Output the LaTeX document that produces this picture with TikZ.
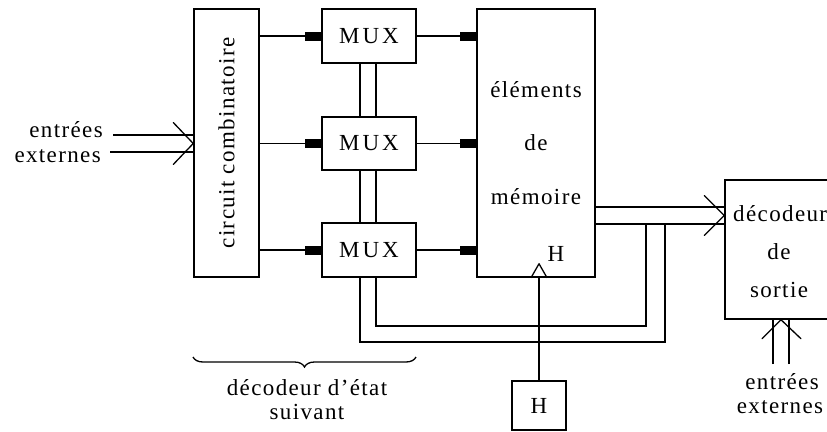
\documentclass[tikz,border=0pt]{standalone}
\usepackage{fontspec}
\setmainfont[LetterSpace=6]{Liberation Serif}
\usetikzlibrary{arrows.meta,decorations.pathreplacing}
\begin{document}
\begin{tikzpicture}[x=1pt,y=-1pt,
  lw/.style={line width=1.5pt},
  box/.style={draw,lw,rectangle,inner sep=0pt},
  lbl/.style={font=\fontsize{23}{25}\selectfont,inner sep=0pt},
  farrow/.style={lw,-{Rectangle[length=16pt,width=9pt]}},
  chev/.style={line width=1.3pt,line cap=round},
  wire/.style={lw}
]
\useasboundingbox[fill=white] (0,0) rectangle (827,431);
% boxes
\node[box,minimum width=65pt,minimum height=268pt] (comb) at (226.5,143) {};
\node[lbl,rotate=90] (combtxt) at (comb.center) {circuit combinatoire};
\node[box,lbl,minimum width=94pt,minimum height=54pt] (mux1) at (369,36) {M\kern3pt U\kern3pt X};
\node[box,lbl,minimum width=94pt,minimum height=53pt] (mux2) at (369,143.5) {M\kern3pt U\kern3pt X};
\node[box,lbl,minimum width=94pt,minimum height=54pt] (mux3) at (369,250) {M\kern3pt U\kern3pt X};
\node[box,minimum width=118pt,minimum height=268pt] (mem) at (536,143) {};
\node[lbl] (m1) at (536,90) {éléments};
\node[lbl] (m2) at (536,143) {de};
\node[lbl] (m3) at (536,197) {mémoire};
\node[box,minimum width=108pt,minimum height=139pt] (dec) at (779,249.5) {};
\node[lbl,anchor=west] (d1) at (733,214) {décodeur};
\node[lbl] (d2) at (779,252) {de};
\node[lbl] (d3) at (779,290) {sortie};
\node[box,lbl,minimum width=54pt,minimum height=49pt] (clk) at (539,405.5) {H};
\node[lbl] (hlab) at (556,254) {H};
% input labels
\node[lbl,anchor=east] (inL1) at (103,130) {entrées};
\node[lbl,anchor=east] (inL2) at (101,156) {externes};
\node[lbl] (inR1) at (782,382) {entrées};
\node[lbl] (inR2) at (780,407) {externes};
\node[lbl,align=center,font=\fontsize{23}{24}\selectfont] (brtxt) at (307,400) {décodeur d{\char"0027}état\\suivant};
% comb -> MUX
\draw[farrow] (comb.east |- mux1) -- (mux1.west);
\draw[farrow] (comb.east |- mux2) -- (mux2.west);
\draw[farrow] (comb.east |- mux3) -- (mux3.west);
% MUX -> memory
\draw[farrow] (mux1.east) -- (mem.west |- mux1);
\draw[farrow] (mux2.east) -- (mem.west |- mux2);
\draw[farrow] (mux3.east) -- (mem.west |- mux3);
% vertical links between MUX
\draw[wire] ([xshift=-9pt]mux1.south) -- ([xshift=-9pt]mux2.north);
\draw[wire] ([xshift=7pt]mux1.south) -- ([xshift=7pt]mux2.north);
\draw[wire] ([xshift=-9pt]mux2.south) -- ([xshift=-9pt]mux3.north);
\draw[wire] ([xshift=7pt]mux2.south) -- ([xshift=7pt]mux3.north);
% feedback
\coordinate (fa) at (646,224);
\coordinate (fb) at (665,224);
\draw[wire] ([xshift=7pt]mux3.south) |- (646,326) -- (fa);
\draw[wire] ([xshift=-9pt]mux3.south) |- (665,342) -- (fb);
% memory -> decoder
\draw[wire] (mem.east |- 0,207) -- (dec.west |- 0,207);
\draw[wire] (mem.east |- 0,224) -- (dec.west |- 0,224);
\coordinate (tD) at (dec.west |- 0,215.5);
\draw[chev] ([shift={(-20,-20)}]tD) -- (tD) -- ([shift={(-20,20)}]tD);
% left inputs
\draw[wire] (113,135) -- (comb.west |- 0,135);
\draw[wire] (110,152) -- (comb.west |- 0,152);
\coordinate (tL) at (comb.west |- 0,143.5);
\draw[chev] ([shift={(-20,-21)}]tL) -- (tL) -- ([shift={(-20,21)}]tL);
% bottom-right inputs
\draw[wire] (773,364) -- (dec.south -| 773,0);
\draw[wire] (789,364) -- (dec.south -| 789,0);
\coordinate (tB) at (dec.south -| 781,0);
\draw[chev] ([shift={(-19,19)}]tB) -- (tB) -- ([shift={(20,19)}]tB);
% clock
\coordinate (ck) at (clk.north |- mem.south);
\draw[wire] (clk.north) -- (ck);
\draw[line width=1.3pt,line join=round] ([shift={(-8,0)}]ck) -- ([shift={(0,-14)}]ck) -- ([shift={(8,0)}]ck);
% brace
\coordinate (b1) at (193,357);
\coordinate (b2) at (416,357);
\draw[line width=1.3pt,decorate,decoration={brace,mirror,amplitude=10pt}] (b1) -- (b2);
\end{tikzpicture}
\end{document}
